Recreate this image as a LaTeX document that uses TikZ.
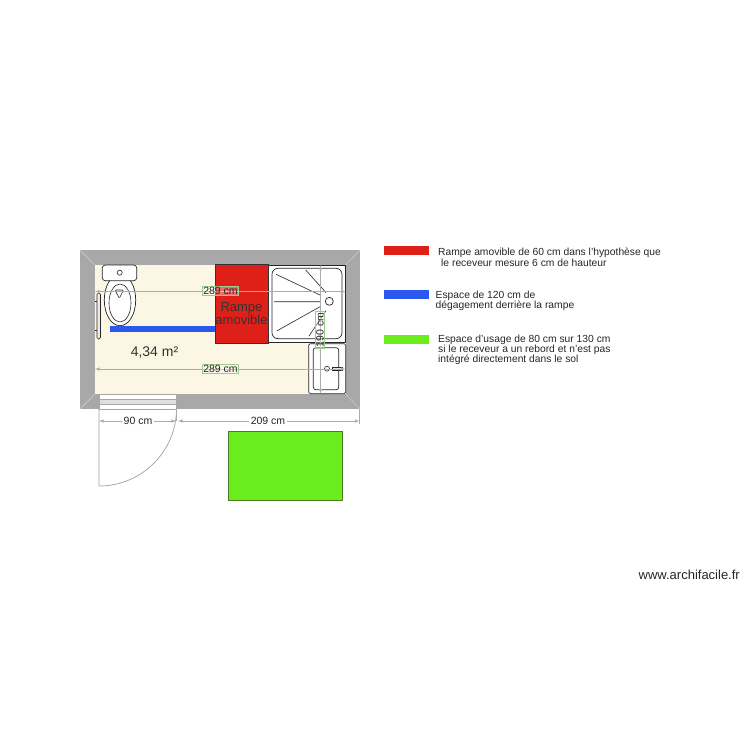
\documentclass[tikz,border=0pt]{standalone}
\usepackage{fontspec}
\setmainfont{Liberation Sans}
\definecolor{wallgray}{HTML}{A8A8A8}
\definecolor{floorcream}{HTML}{FCF6E4}
\definecolor{ramperouge}{HTML}{DF2019}
\definecolor{espacebleu}{HTML}{2B59EE}
\definecolor{espacevert}{HTML}{6BEC1C}
\definecolor{bordvert}{HTML}{4E7A20}
\definecolor{cotevert}{HTML}{9CCB8C}
\tikzset{
  cote/.style={draw=gray!65, line width=0.6pt, latex-latex},
  cotelabel/.style={draw=cotevert, line width=0.8pt, fill=white, fill opacity=0.35, text opacity=1,
    inner sep=1pt, font=\fontsize{10.5}{11}\selectfont, text=black!85},
  extlabel/.style={fill=white, inner sep=2pt, font=\fontsize{10.5}{11}\selectfont, text=black!85},
  legende/.style={anchor=west, inner sep=0pt, font=\fontsize{10.3}{11}\selectfont, text=black!85},
  swatch/.style={anchor=north west, minimum width=45pt, minimum height=9pt, inner sep=0pt},
  meuble/.style={draw=black!85, line width=0.7pt, fill=white},
}
\begin{document}
\begin{tikzpicture}[x=1pt, y=-1pt]
  \useasboundingbox (0,0) rectangle (750,750);

  % Walls and floor
  \fill[wallgray] (80,250) rectangle (360,409);
  \fill[floorcream] (95,265) rectangle (345.5,394);
  \draw[gray!35, line width=0.4pt] (80,250) -- (95,265) (360,250) -- (345.5,265)
    (80,409) -- (95,394) (360,409) -- (345.5,394);

  % Door opening and leaf
  \fill[white] (99,394) rectangle (176.5,409);
  \fill[gray!25] (99,399) rectangle (176.5,404.5);
  \draw[gray!70, line width=0.5pt] (99,394) rectangle (176.5,409) (99,399) -- (176.5,399) (99,404.5) -- (176.5,404.5);
  \coordinate (doorhinge) at (99,409);
  \coordinate (doorend) at (99,486);
  \coordinate (doorjamb) at (176.5,409);
  \draw[gray!75, line width=0.7pt] (doorhinge) -- (doorend) arc[start angle=270, end angle=360, radius=77.5pt];

  % Shower
  \node[meuble, minimum width=77.5pt, minimum height=76.5pt, inner sep=0pt] (shower) at (306.8,304) {};
  \draw[black!85, line width=0.7pt, rounded corners=6pt] (272,268.3) rectangle (342,338.7);
  \node[draw=black!85, line width=0.7pt, circle, minimum size=8pt, inner sep=0pt] (drain) at (329.3,301.3) {};
  \draw[black!85, line width=0.6pt] (305.7,270) -- (326,292.7) (276,274.3) -- (320,295)
    (274,301.7) -- (320,301.7) (276.7,331) -- (320,306.7) (309,336) -- (326,310.7);

  % Sink
  \draw[meuble, rounded corners=1.5pt] (308.7,343.7) rectangle (345.7,393.7);
  \draw[black!85, line width=0.7pt, rounded corners=2.5pt] (313.3,347.7) rectangle (338.7,389.7);
  \draw[black!85, line width=0.6pt] (327,368.7) circle[radius=2.5pt];
  \draw[black!85, line width=0.6pt, fill=gray!20] (332.3,367) rectangle (342,370.3);

  % Toilet
  \draw[meuble] (120,300) ellipse[x radius=15.7pt, y radius=25.7pt];
  \draw[black!85, line width=0.6pt] (120,303) ellipse[x radius=11pt, y radius=19pt];
  \draw[black!85, line width=0.6pt, rounded corners=1pt] (115,290) -- (123.5,290) -- (119.3,298.3) -- cycle;
  \draw[meuble, rounded corners=3pt] (102.3,265) rectangle (136.7,280.7);
  \draw[black!85, line width=0.6pt] (119.7,272.7) circle[radius=2.5pt];

  % Grab bar
  \draw[black!85, line width=0.6pt, fill=gray!15, rounded corners=1.5pt] (97,293) rectangle (100.5,339);
  \draw[black!85, line width=1pt] (95,301) -- (97,301) (95,330.7) -- (97,330.7);

  % Blue and red zones
  \fill[espacebleu] (110,325.5) rectangle (215,331.5);
  \node[draw=black!80, line width=0.7pt, fill=ramperouge, minimum width=53pt, minimum height=79pt, inner sep=0pt] (rampe) at (241.5,303.5) {};
  \node[align=center, font=\fontsize{13}{13}\selectfont, text=black!80] (rampetxt) at (241.5,313.5) {Rampe\\[0.5pt]amovible};
  \node[font=\fontsize{14}{14}\selectfont, text=black!80] (surface) at (154.5,352.5) {4,34 m²};

  % Inner dimensions
  \coordinate (haut1) at (95,291.5);
  \coordinate (haut2) at (345.5,291.5);
  \coordinate (bas1) at (95,369);
  \coordinate (bas2) at (345.5,369);
  \coordinate (vert1) at (320.5,265);
  \coordinate (vert2) at (320.5,393.5);
  \draw[cote] (haut1) -- (haut2);
  \draw[cote] (bas1) -- (bas2);
  \draw[cote] (vert1) -- (vert2);
  \node[cotelabel] (lhaut) at (220.5,291) {289 cm};
  \node[cotelabel] (lbas) at (220.5,369) {289 cm};
  \node[cotelabel, rotate=90] (lvert) at (320,330) {190 cm};

  % Outer dimensions
  \coordinate (c90a) at (99,421);
  \coordinate (c90b) at (176,421);
  \coordinate (c209a) at (178,421);
  \coordinate (c209b) at (359.5,421);
  \draw[gray!65, line width=0.5pt] (c90b |- doorjamb) -- (c90b) (c209b |- doorjamb) -- (359.5,424);
  \draw[cote] (c90a) -- (c90b);
  \draw[cote] (c209a) -- (c209b);
  \node[extlabel] (l90) at (138,421) {90 cm};
  \node[extlabel] (l209) at (268,421) {209 cm};

  % Green usage zone
  \node[draw=bordvert, line width=1pt, fill=espacevert, minimum width=114pt, minimum height=69.5pt, inner sep=0pt] (usage) at (285.5,466) {};

  % Legend
  \node[swatch, fill=ramperouge] (sw1) at (383.5,246) {};
  \node[swatch, fill=espacebleu] (sw2) at (383.5,290) {};
  \node[swatch, fill=espacevert] (sw3) at (383.5,335) {};
  \node[legende] (t1a) at (438,253) {Rampe amovible de 60 cm dans l'hypothèse que};
  \node[legende] (t1b) at (441,263) {le receveur mesure 6 cm de hauteur};
  \node[legende] (t2a) at (435.5,295.5) {Espace de 120 cm de};
  \node[legende] (t2b) at (435.5,306) {dégagement derrière la rampe};
  \node[legende] (t3a) at (438,339.5) {Espace d'usage de 80 cm sur 130 cm};
  \node[legende] (t3b) at (438,350) {si le receveur a un rebord et n'est pas};
  \node[legende] (t3c) at (438,360) {intégré directement dans le sol};

  \node[anchor=east, inner sep=0pt, font=\fontsize{13}{13}\selectfont, text=black!85] (site) at (740,575) {www.archifacile.fr};
\end{tikzpicture}
\end{document}
